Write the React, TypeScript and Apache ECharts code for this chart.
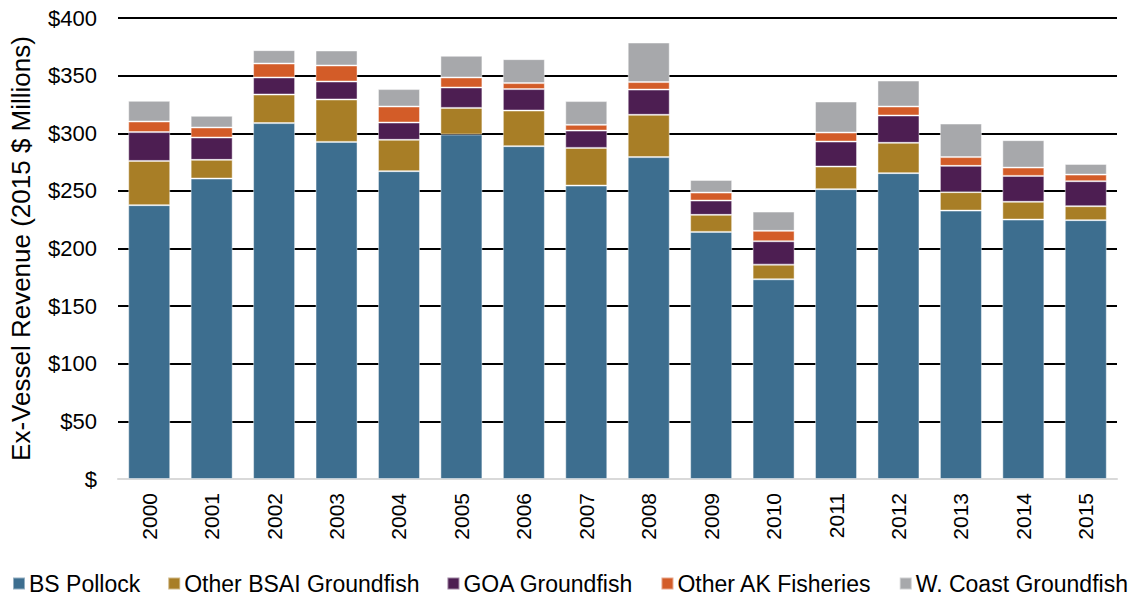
import React, { useEffect, useRef } from "react";
import * as echarts from "echarts";

const years = ["2000","2001","2002","2003","2004","2005","2006","2007","2008","2009","2010","2011","2012","2013","2014","2015"];
const bsPollock = [237.6, 260.7, 308.8, 292.5, 267.1, 298.9, 288.8, 254.6, 279.3, 214.4, 173.3, 251.5, 265.4, 232.9, 225.1, 224.6];
const otherBsai = [38.4, 16.2, 24.8, 36.8, 27.2, 23.1, 30.9, 32.7, 36.7, 14.8, 12.7, 19.6, 26.3, 16.0, 15.4, 12.1];
const goaGroundfish = [25.0, 19.4, 14.8, 15.6, 15.0, 17.7, 18.6, 15.0, 21.9, 12.4, 20.3, 21.7, 23.7, 22.8, 22.5, 21.7];
const otherAk = [9.2, 8.7, 12.1, 13.9, 13.9, 8.7, 5.2, 5.0, 6.5, 6.9, 9.0, 7.8, 7.8, 7.6, 7.2, 5.7];
const wCoast = [17.9, 10.1, 11.6, 13.0, 15.1, 18.8, 20.8, 20.6, 34.3, 11.0, 16.7, 26.9, 22.5, 29.1, 23.8, 9.3];
const yTicks = [0, 50, 100, 150, 200, 250, 300, 350, 400];

const seriesDefs = [
  { name: "BS Pollock", data: bsPollock, color: "#3d6e8f" },
  { name: "Other BSAI Groundfish", data: otherBsai, color: "#a87e26" },
  { name: "GOA Groundfish", data: goaGroundfish, color: "#4d1e52" },
  { name: "Other AK Fisheries", data: otherAk, color: "#d35c28" },
  { name: "W. Coast Groundfish", data: wCoast, color: "#a7a8ab" },
];

export default function App() {
  const ref = useRef<HTMLDivElement>(null);
  useEffect(() => {
    if (!ref.current) return;
    const chart = echarts.init(ref.current, undefined, { renderer: "svg" });
    const font = "'Liberation Sans', Arial, sans-serif";
    chart.setOption({
      animation: false,
      textStyle: { fontFamily: font },
      grid: { left: 118, right: 16, top: 18, bottom: 119, containLabel: false },
      legend: {
        left: 12,
        top: 572,
        padding: 0,
        itemWidth: 12,
        itemHeight: 12,
        itemGap: 27,
        icon: "rect",
        textStyle: { fontSize: 23, color: "#000", fontFamily: font, padding: [0, 0, 0, -1] },
        data: seriesDefs.map((s) => s.name),
      },
      xAxis: {
        type: "category",
        data: years,
        axisLine: { show: true, lineStyle: { color: "#d9d9d9", width: 2 } },
        axisTick: { show: false },
        axisLabel: { rotate: 90, fontSize: 21, color: "#000", margin: 14, fontFamily: font },
      },
      yAxis: {
        type: "value",
        min: yTicks[0],
        max: yTicks[yTicks.length - 1],
        interval: 50,
        name: "Ex-Vessel Revenue (2015 $ Millions)",
        nameLocation: "middle",
        nameGap: 84,
        nameTextStyle: { fontSize: 26, color: "#000", fontFamily: font },
        axisLine: { show: false },
        axisTick: { show: false },
        axisLabel: {
          fontSize: 22,
          color: "#000",
          margin: 21,
          fontFamily: font,
          formatter: (v: number) => (v === 0 ? "$" : "$" + v),
        },
        splitLine: { show: true, showMinLine: false, lineStyle: { color: "#000", width: 2 } },
      },
      series: seriesDefs.map((s) => ({
        name: s.name,
        type: "bar",
        stack: "total",
        barWidth: 42,
        data: s.data,
        itemStyle: { color: s.color, borderColor: "rgba(255,255,255,0.45)", borderWidth: 1 },
      })),
    });
    return () => chart.dispose();
  }, []);
  return <div ref={ref} style={{ width: 1133, height: 598, position: "absolute", left: 0, top: 0 }} />;
}
